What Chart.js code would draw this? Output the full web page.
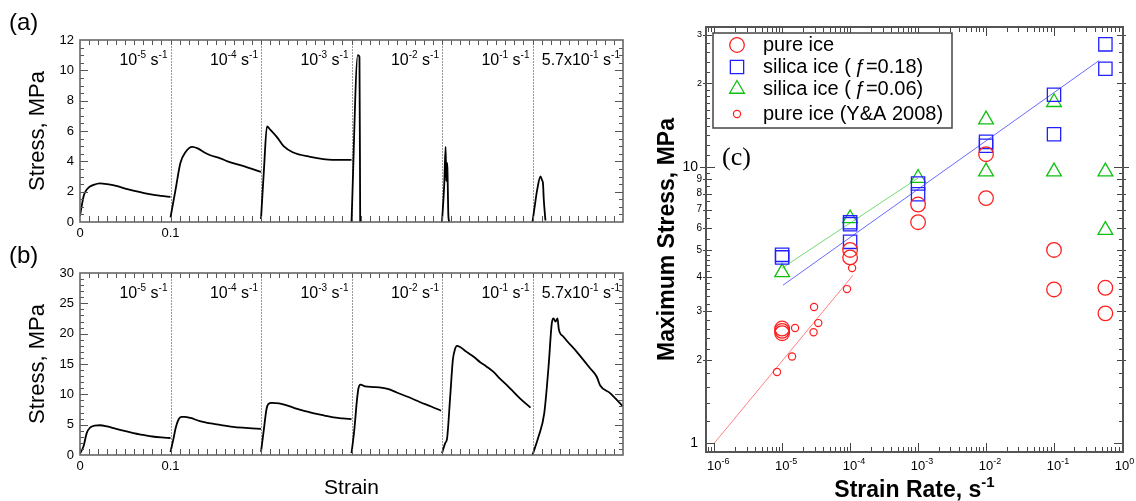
<!DOCTYPE html>
<html>
<head>
<meta charset="utf-8">
<script src="https://cdn.jsdelivr.net/npm/chart.js@4.4.1/dist/chart.umd.min.js"></script>
<style>
  html, body { margin: 0; padding: 0; background: #fff; }
  #wrap { position: relative; width: 1136px; height: 501px; overflow: hidden; }
  #wrap canvas { position: absolute; }
  #chartA { left: 0; top: 0; }
  #chartB { left: 0; top: 230px; }
  #chartC { left: 640px; top: 0; }
</style>
</head>
<body>
<div id="wrap">
  <canvas id="chartA" width="640" height="250"></canvas>
  <canvas id="chartB" width="640" height="271"></canvas>
  <canvas id="chartC" width="496" height="501"></canvas>
</div>
<script>
// strain rates of the six tests, written as base x 10^exp
const rateBase = ['10', '10', '10', '10', '10', '5.7x10'];
const rateExp = ['-5', '-4', '-3', '-2', '-1', '-1'];

// (a) pure ice: strain (within each test) and stress in MPa
const aStrain = [
  [0, 0.002, 0.004, 0.006, 0.01, 0.015, 0.022, 0.03, 0.04, 0.05, 0.06, 0.07, 0.08, 0.09, 0.1],
  [0, 0.0055, 0.011, 0.0165, 0.024, 0.03, 0.037, 0.044, 0.055, 0.063, 0.08, 0.1],
  [0, 0.0033, 0.0066, 0.01, 0.0176, 0.025, 0.035, 0.054, 0.079, 0.1],
  [0, 0.007, 0.0088, 0.0096],
  [0, 0.0025, 0.004, 0.0047, 0.0058, 0.0062, 0.007, 0.008],
  [0, 0.0033, 0.0051, 0.0088, 0.0106, 0.0115, 0.0125, 0.0143]
];
const aStress = [
  [0.4, 1.1, 1.7, 2.0, 2.3, 2.45, 2.55, 2.5, 2.38, 2.2, 2.05, 1.92, 1.8, 1.72, 1.65],
  [0.3, 2.1, 3.9, 4.6, 4.95, 4.85, 4.6, 4.4, 4.2, 4.0, 3.7, 3.3],
  [0.2, 3.5, 6.3, 6.1, 5.6, 5.0, 4.6, 4.3, 4.1, 4.1],
  [0, 11.0, 10.9, 0],
  [0, 2.5, 4.95, 2.7, 3.9, 3.0, 0.5, 0],
  [0, 1.4, 2.1, 3.0, 2.75, 2.6, 1.45, 0.1]
];

// (b) silica ice
const bStrain = [
  [0, 0.004, 0.0074, 0.011, 0.016, 0.022, 0.03, 0.04, 0.05, 0.059, 0.07, 0.08, 0.09, 0.1],
  [0, 0.003, 0.006, 0.009, 0.012, 0.016, 0.022, 0.0325, 0.045, 0.055, 0.069, 0.08, 0.09, 0.1],
  [0, 0.003, 0.006, 0.008, 0.012, 0.02, 0.03, 0.04, 0.05, 0.06, 0.07, 0.08, 0.09, 0.1],
  [0, 0.003, 0.006, 0.0077, 0.01, 0.015, 0.025, 0.04, 0.05, 0.062, 0.076, 0.088, 0.099],
  [0, 0.0037, 0.0055, 0.009, 0.012, 0.0145, 0.0165, 0.02, 0.0272, 0.035, 0.0422, 0.049, 0.0569, 0.064, 0.0717, 0.079, 0.0864, 0.0978],
  [0, 0.0066, 0.013, 0.0177, 0.0213, 0.0232, 0.0254, 0.0276, 0.0291, 0.0342, 0.0489, 0.0636, 0.071, 0.0746, 0.0857, 0.1]
];
const bStress = [
  [0.2, 1.5, 3.6, 4.5, 4.85, 4.9, 4.7, 4.3, 3.95, 3.6, 3.3, 3.05, 2.9, 2.8],
  [0.5, 2.5, 4.6, 5.9, 6.3, 6.3, 6.1, 5.6, 5.2, 4.95, 4.65, 4.5, 4.4, 4.3],
  [0.5, 4.0, 7.5, 8.4, 8.6, 8.5, 8.1, 7.6, 7.2, 6.8, 6.5, 6.2, 6.05, 5.9],
  [0.3, 4.0, 9.0, 11.0, 11.6, 11.3, 11.2, 10.9, 10.3, 9.6, 8.7, 8.0, 7.3],
  [0.3, 2.0, 2.6, 9.5, 15.7, 17.5, 18.0, 17.8, 17.0, 16.2, 15.3, 14.6, 13.7, 12.6, 11.5, 10.4, 9.3, 7.8],
  [0, 3.0, 6.9, 14.5, 21.7, 22.5, 22.0, 22.5, 20.7, 19.5, 17.0, 14.3, 12.9, 11.5, 10.2, 8.0]
];

// (c) maximum stress (MPa) against strain rate (1/s)
const pureRate = [1e-5, 1e-5, 1e-5, 1e-4, 1e-4, 1e-3, 1e-3, 1e-2, 1e-2, 0.1, 0.1, 0.57, 0.57];
const pureStress = [2.6, 2.55, 2.5, 5.0, 4.7, 7.3, 6.3, 11.1, 7.7, 5.0, 3.6, 3.65, 2.95];
const silica18Rate = [1e-5, 1e-5, 1e-4, 1e-4, 1e-4, 1e-3, 1e-3, 1e-2, 1e-2, 0.1, 0.1, 0.57, 0.57];
const silica18Stress = [4.8, 4.7, 6.3, 6.2, 5.35, 8.7, 7.95, 12.3, 11.9, 18.2, 13.1, 27.7, 22.6];
const silica06Rate = [1e-5, 1e-4, 1e-3, 1e-2, 1e-2, 0.1, 0.1, 0.57, 0.57];
const silica06Stress = [4.15, 6.5, 9.1, 14.8, 9.6, 17.1, 9.6, 9.6, 5.9];
const yaRate = [8.4e-6, 1.4e-5, 1.55e-5, 2.9e-5, 3.4e-5, 2.95e-5, 9.0e-5, 1.07e-4];
const yaStress = [1.81, 2.06, 2.61, 2.52, 2.72, 3.11, 3.61, 4.3];

// power-law fits
const pureFitRate = [1e-6, 1.1e-4];
const pureFitStress = [1.0, 4.05];
const silica18FitRate = [1.03e-5, 0.46];
const silica18FitStress = [3.73, 24.2];
const silica06FitRate = [1e-5, 1e-3];
const silica06FitStress = [4.3, 9.1];

const SANS = '"Liberation Sans", Arial, Helvetica, sans-serif';
Chart.defaults.font.family = SANS;
Chart.defaults.color = '#000';

// text with raised exponents: parts = [[text, isSup], ...]
function drawParts(ctx, parts, x, y, align, baseFont, supFont, rise) {
  let w = 0;
  parts.forEach(p => { ctx.font = p[1] ? supFont : baseFont; w += ctx.measureText(p[0]).width; });
  let cx = align === 'right' ? x - w : align === 'center' ? x - w / 2 : x;
  ctx.textAlign = 'left';
  ctx.textBaseline = 'alphabetic';
  parts.forEach(p => {
    ctx.font = p[1] ? supFont : baseFont;
    ctx.fillText(p[0], cx, p[1] ? y - rise : y);
    cx += ctx.measureText(p[0]).width;
  });
}

function seg(ctx, x1, y1, x2, y2) {
  ctx.beginPath(); ctx.moveTo(x1, y1); ctx.lineTo(x2, y2); ctx.stroke();
}

// frame, inner ticks, separators and labels of the stress-strain panels
const strainFrame = {
  id: 'strainFrame',
  beforeDatasetsDraw(chart) {
    const {ctx, chartArea: a, scales: {x}} = chart;
    ctx.save();
    ctx.strokeStyle = '#9a9a9a';
    ctx.lineWidth = 1;
    ctx.setLineDash([2, 1]);
    for (let i = 1; i < rateExp.length; i++) {
      const px = Math.round(x.getPixelForValue(i * 0.1)) + 0.5;
      seg(ctx, px, a.top, px, a.bottom);
    }
    ctx.restore();
  },
  afterDraw(chart, args, opts) {
    const {ctx, chartArea: a, scales: {x, y}} = chart;
    ctx.save();
    ctx.strokeStyle = '#555';
    ctx.lineWidth = 1;
    for (let k = 1; k < 60; k++) {
      const px = Math.round(x.getPixelForValue(k * 0.01)) + 0.5;
      seg(ctx, px, a.bottom, px, a.bottom - 6);
      seg(ctx, px, a.top, px, a.top + 5);
    }
    const n = Math.round(y.max / opts.minor);
    for (let k = 1; k < n; k++) {
      const v = k * opts.minor;
      const py = Math.round(y.getPixelForValue(v)) + 0.5;
      const major = Math.abs(v / opts.major - Math.round(v / opts.major)) < 1e-6;
      const len = major ? 8 : 4;
      seg(ctx, a.left, py, a.left + len, py);
      seg(ctx, a.right, py, a.right - len, py);
    }
    ctx.strokeStyle = '#666';
    ctx.lineWidth = 1.6;
    ctx.strokeRect(a.left, a.top, a.right - a.left, a.bottom - a.top);

    ctx.fillStyle = '#000';
    for (let i = 0; i < rateExp.length; i++) {
      const right = x.getPixelForValue((i + 1) * 0.1) - 3;
      drawParts(ctx, [[rateBase[i], false], [rateExp[i], true], [' s', false], ['-1', true]],
        right, a.top + 25, 'right', '16px ' + SANS, '10px ' + SANS, 7);
    }

    ctx.font = '24px ' + SANS;
    ctx.textAlign = 'left';
    ctx.textBaseline = 'alphabetic';
    ctx.fillText(opts.letter, 9, a.top - 10);

    ctx.save();
    ctx.translate(38, (a.top + a.bottom) / 2);
    ctx.rotate(-Math.PI / 2);
    ctx.font = '22px ' + SANS;
    ctx.textAlign = 'center';
    ctx.textBaseline = 'middle';
    ctx.fillText('Stress, MPa', 0, 0);
    ctx.restore();

    if (opts.xTitle) {
      ctx.font = '21px ' + SANS;
      ctx.textAlign = 'center';
      ctx.textBaseline = 'middle';
      ctx.fillText(opts.xTitle, (a.left + a.right) / 2, a.bottom + 33);
    }
    ctx.restore();
  }
};

function buildStrainChart(id, strains, stresses, yMax, yStep, yMinor, letter, padTop, xHeight, xTitle) {
  const datasets = strains.map((s, i) => ({
    data: s.map((e, k) => ({x: i * 0.1 + e, y: stresses[i][k]})),
    borderColor: '#000',
    borderWidth: 1.8,
    pointRadius: 0,
    cubicInterpolationMode: 'monotone',
    fill: false
  }));
  return new Chart(document.getElementById(id), {
    type: 'line',
    data: {datasets},
    options: {
      responsive: false,
      animation: false,
      events: [],
      layout: {padding: {top: padTop, right: 17, left: 0, bottom: 0}},
      plugins: {
        legend: {display: false},
        tooltip: {enabled: false},
        strainFrame: {letter, major: yStep, minor: yMinor, xTitle}
      },
      scales: {
        x: {
          type: 'linear', min: 0, max: 0.6,
          grid: {display: false, drawTicks: false},
          border: {display: false},
          ticks: {
            stepSize: 0.1, autoSkip: false, maxRotation: 0, padding: 4,
            font: {size: 13},
            callback: v => (Math.abs(v) < 1e-6 ? '0' : Math.abs(v - 0.1) < 1e-6 ? '0.1' : '')
          },
          afterFit: s => { s.height = xHeight; }
        },
        y: {
          type: 'linear', min: 0, max: yMax,
          grid: {display: false, drawTicks: false},
          border: {display: false},
          ticks: {stepSize: yStep, padding: 6, font: {size: 13}},
          afterFit: s => { s.width = 80; }
        }
      }
    },
    plugins: [strainFrame]
  });
}

buildStrainChart('chartA', aStrain, aStress, 12, 2, 0.5, '(a)', 40, 28, null);
buildStrainChart('chartB', bStrain, bStress, 30, 5, 1, '(b)', 43, 46, 'Strain');

// ---- (c) log-log plot ----
function drawMarker(ctx, style, r, x, y) {
  ctx.beginPath();
  if (style === 'rect') {
    const h = r * Math.SQRT1_2;
    ctx.rect(x - h, y - h, 2 * h, 2 * h);
  } else if (style === 'triangle') {
    ctx.moveTo(x, y - r);
    ctx.lineTo(x + r * Math.sin(2 * Math.PI / 3), y - r * Math.cos(2 * Math.PI / 3));
    ctx.lineTo(x + r * Math.sin(4 * Math.PI / 3), y - r * Math.cos(4 * Math.PI / 3));
    ctx.closePath();
  } else {
    ctx.arc(x, y, r, 0, Math.PI * 2);
  }
  ctx.stroke();
}

const yLabelled = [1, 2, 3, 4, 5, 6, 7, 8, 9, 10, 20, 30];
const ySmallTicks = [];
for (let k = 6; k < 25; k++) if (k % 5) ySmallTicks.push(k * 0.2);
[5.5, 6.5, 7.5, 8.5, 9.5, 11, 12, 13, 14, 15, 16, 17, 18, 19, 22, 24, 26, 28].forEach(v => ySmallTicks.push(v));

const logFrame = {
  id: 'logFrame',
  afterDraw(chart) {
    const {ctx, chartArea: a, scales: {x, y}} = chart;
    ctx.save();
    ctx.strokeStyle = '#444';
    ctx.lineWidth = 1;

    // rate axis ticks, top and bottom
    for (let e = -7; e <= 0; e++) {
      for (let m = 1; m <= 9; m++) {
        const v = m * Math.pow(10, e);
        if (v < x.min || v > x.max) continue;
        const px = Math.round(x.getPixelForValue(v)) + 0.5;
        const len = m === 1 ? 9 : 5;
        seg(ctx, px, a.bottom, px, a.bottom - len);
        seg(ctx, px, a.top, px, a.top + len);
      }
    }
    // stress axis ticks, left and right
    ySmallTicks.forEach(v => {
      const py = Math.round(y.getPixelForValue(v)) + 0.5;
      seg(ctx, a.left, py, a.left + 4, py);
      seg(ctx, a.right, py, a.right - 4, py);
    });
    yLabelled.forEach(v => {
      const py = Math.round(y.getPixelForValue(v)) + 0.5;
      const decade = v === 1 || v === 10;
      const inner = decade ? 9 : 6;
      const outer = decade ? (v === 10 ? 6 : 0) : 3;
      seg(ctx, a.left - outer, py, a.left + inner, py);
      seg(ctx, a.right + outer, py, a.right - inner, py);
    });

    ctx.strokeStyle = '#555';
    ctx.lineWidth = 2;
    ctx.strokeRect(a.left, a.top, a.right - a.left, a.bottom - a.top);

    // tick labels
    ctx.fillStyle = '#000';
    for (let e = -6; e <= 0; e++) {
      const px = x.getPixelForValue(Math.pow(10, e));
      ctx.font = '13px ' + SANS;
      const w10 = ctx.measureText('10').width;
      drawParts(ctx, [['10', false], [String(e), true]], px - w10 / 2, a.bottom + 18, 'left',
        '13px ' + SANS, '9px ' + SANS, 6);
    }
    ctx.textAlign = 'right';
    ctx.textBaseline = 'middle';
    yLabelled.forEach(v => {
      const py = y.getPixelForValue(v);
      const decade = v === 1 || v === 10;
      ctx.font = (decade ? '14px ' : v > 10 ? '9px ' : '10px ') + SANS;
      const txt = v > 10 ? String(v / 10) : String(v);
      ctx.fillText(txt, a.left - (decade ? 8 : 4), py);
    });

    // axis titles
    ctx.save();
    ctx.translate(28, (a.top + a.bottom) / 2);
    ctx.rotate(-Math.PI / 2);
    ctx.font = 'bold 23px ' + SANS;
    ctx.textAlign = 'center';
    ctx.textBaseline = 'middle';
    ctx.fillText('Maximum Stress, MPa', 0, 0);
    ctx.restore();
    drawParts(ctx, [['Strain Rate, s', false], ['-1', true]], (a.left + a.right) / 2, 497, 'center',
      'bold 23px ' + SANS, 'bold 15px ' + SANS, 10);

    // legend
    const lx = a.left + 7, ly = 33, lw = 239, lh = 95;
    ctx.fillStyle = '#fff';
    ctx.fillRect(lx, ly, lw, lh);
    ctx.strokeStyle = '#444';
    ctx.lineWidth = 1.5;
    ctx.strokeRect(lx, ly, lw, lh);
    const rows = [45, 67, 89, 114];
    let row = 0;
    chart.data.datasets.forEach(ds => {
      if (!ds.label) return;
      const ry = rows[row++];
      ctx.strokeStyle = ds.borderColor;
      ctx.lineWidth = ds.borderWidth;
      drawMarker(ctx, ds.pointStyle, ds.pointRadius, lx + 24, ry);
      ctx.fillStyle = '#000';
      ctx.font = '20px ' + SANS;
      ctx.textAlign = 'left';
      ctx.textBaseline = 'middle';
      ctx.fillText(ds.label, lx + 50, ry);
    });

    ctx.font = '26px "Liberation Serif", "Times New Roman", serif';
    ctx.textAlign = 'left';
    ctx.textBaseline = 'alphabetic';
    ctx.fillText('(c)', a.left + 16, 165);
    ctx.restore();
  }
};

const zip = (xs, ys) => xs.map((v, i) => ({x: v, y: ys[i]}));
const RED = '#ff1f1f', BLUE = '#2020ff', GREEN = '#10c010';

new Chart(document.getElementById('chartC'), {
  type: 'scatter',
  data: {
    datasets: [
      {label: 'pure ice', data: zip(pureRate, pureStress), pointStyle: 'circle', pointRadius: 7.3,
        borderColor: RED, backgroundColor: 'rgba(0,0,0,0)', borderWidth: 1.3},
      {label: 'silica ice (\u2009\u0192=0.18)', data: zip(silica18Rate, silica18Stress), pointStyle: 'rect', pointRadius: 9.4,
        borderColor: BLUE, backgroundColor: 'rgba(0,0,0,0)', borderWidth: 1.3},
      {label: 'silica ice (\u2009\u0192=0.06)', data: zip(silica06Rate, silica06Stress), pointStyle: 'triangle', pointRadius: 8.5,
        borderColor: GREEN, backgroundColor: 'rgba(0,0,0,0)', borderWidth: 1.3},
      {label: 'pure ice (Y&A 2008)', data: zip(yaRate, yaStress), pointStyle: 'circle', pointRadius: 3.6,
        borderColor: RED, backgroundColor: 'rgba(0,0,0,0)', borderWidth: 1.2},
      {data: zip(pureFitRate, pureFitStress), showLine: true, pointRadius: 0, borderColor: '#ff8080', borderWidth: 1},
      {data: zip(silica18FitRate, silica18FitStress), showLine: true, pointRadius: 0, borderColor: '#6a6aff', borderWidth: 1},
      {data: zip(silica06FitRate, silica06FitStress), showLine: true, pointRadius: 0, borderColor: '#70dd70', borderWidth: 1}
    ]
  },
  options: {
    responsive: false,
    animation: false,
    events: [],
    layout: {padding: {top: 27, right: 13, left: 0, bottom: 0}},
    plugins: {legend: {display: false}, tooltip: {enabled: false}},
    scales: {
      x: {
        type: 'logarithmic', min: Math.pow(10, -6.12), max: Math.pow(10, 0.015),
        grid: {display: false, drawTicks: false}, border: {display: false},
        ticks: {display: false},
        afterFit: s => { s.height = 49; }
      },
      y: {
        type: 'logarithmic', min: 0.93, max: 32,
        grid: {display: false, drawTicks: false}, border: {display: false},
        ticks: {display: false},
        afterFit: s => { s.width = 66; }
      }
    }
  },
  plugins: [logFrame]
});
</script>
</body>
</html>
